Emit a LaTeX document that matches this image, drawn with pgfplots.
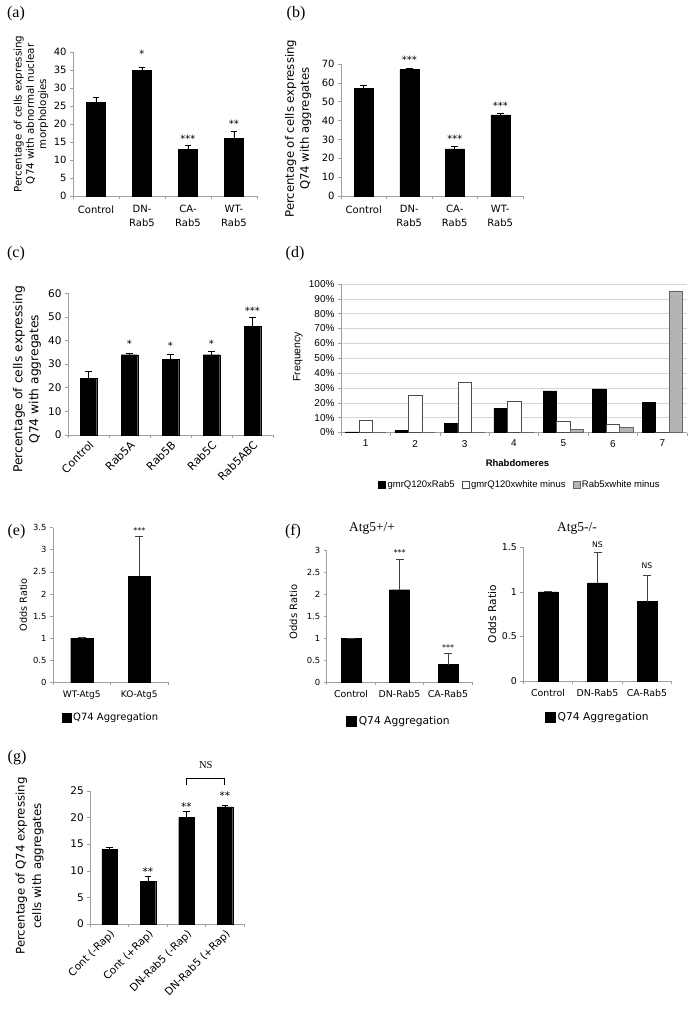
\documentclass[border=0pt]{standalone}
\usepackage{pgfplots}
\pgfplotsset{compat=1.18}
\usepackage{fontspec}
\setmainfont{DejaVu Sans}
\newfontfamily\tms{Liberation Serif}
\newfontfamily\arl{Liberation Sans}
\newcommand{\fs}[1]{\fontsize{#1bp}{#1bp}\selectfont}
\definecolor{axgray}{HTML}{A0A0A0}
\definecolor{barg}{HTML}{B4B4B4}
\definecolor{gridg}{HTML}{D6D6D6}
\pgfplotsset{
  xl/.style={
    scale only axis, anchor=south west, clip=false,
    axis x line*=bottom, axis y line*=left,
    axis line style={axgray, line width=0.6pt},
    every tick/.style={axgray, line width=0.6pt},
    tick align=outside, major tick length=3bp,
    ymin=0, ybar,
    xticklabel={\relax},
    /pgf/number format/assume math mode=true,
    extra x tick style={major tick length=0pt},
  },
  eb/.style={error bars/.cd, y dir=plus, y explicit,
    error bar style={black, line width=0.6pt},
    error mark options={rotate=90, mark size=3.3bp, line width=0.6pt, black}},
  ebf/.style={error bars/.cd, y dir=plus, y explicit,
    error bar style={black!75, line width=0.5pt},
    error mark options={rotate=90, mark size=4bp, line width=0.5pt, black!75}},
  bb/.style={fill=black, draw=black},
}
\tikzset{ast/.style={font=\fs{10}, yshift=-2bp, inner sep=0pt}}
\begin{document}
\begin{tikzpicture}
\fill[white] (0,0) rectangle (700bp,-1012bp);
\path[use as bounding box] (0,0) rectangle (700bp,-1012bp);

% ---------------- (a)
\begin{axis}[xl, at={(73bp,-196bp)}, width=184bp, height=144bp,
  xmin=-0.5, xmax=3.5, ymax=40, ytick={0,5,...,40},
  xtick={-0.5,0.5,...,3.5},
  extra x ticks={0,1,2,3},
  extra x tick labels={Control,{DN-\\Rab5},{CA-\\Rab5},{WT-\\Rab5}},
  x tick label style={align=center, font=\fontsize{10bp}{14bp}\selectfont, yshift=-6bp},
  y tick label style={font=\fs{10}},
  bar width=19bp,
  ylabel={Percentage of cells expressing\\Q74 with abnormal nuclear\\morphologies},
  ylabel style={align=center, font=\fontsize{10.3bp}{12.3bp}\selectfont,
    at={(axis description cs:-0.228,0.57)}, anchor=center},
]
\addplot[bb, eb] coordinates {(0,26) +- (0,1.5) (1,35) +- (0,0.8) (2,13) +- (0,1) (3,16) +- (0,2)};
\node[ast] at (axis cs:1,40.1) {*};
\node[ast] at (axis cs:2,16.5) {***};
\node[ast] at (axis cs:3,20.5) {**};
\end{axis}

% ---------------- (b)
\begin{axis}[xl, at={(341bp,-196bp)}, width=182bp, height=132bp,
  xmin=-0.5, xmax=3.5, ymax=70, ytick={0,10,...,70},
  xtick={-0.5,0.5,...,3.5},
  extra x ticks={0,1,2,3},
  extra x tick labels={Control,{DN-\\Rab5},{CA-\\Rab5},{WT-\\Rab5}},
  x tick label style={align=center, font=\fontsize{10bp}{14bp}\selectfont, yshift=-6bp},
  y tick label style={font=\fs{10}},
  bar width=19bp,
  ylabel={Percentage of cells expressing\\Q74 with aggregates},
  ylabel style={align=center, font=\fontsize{11.7bp}{15bp}\selectfont,
    at={(axis description cs:-0.236,0.51)}, anchor=center},
]
\addplot[bb, eb] coordinates {(0,57) +- (0,1.5) (1,67) +- (0,0.5) (2,25) +- (0,1.3) (3,43) +- (0,1)};
\node[ast] at (axis cs:1,73.5) {***};
\node[ast] at (axis cs:2,31.4) {***};
\node[ast] at (axis cs:3,49.1) {***};
\end{axis}

% ---------------- (c)
\begin{axis}[xl, at={(68bp,-435bp)}, width=205bp, height=141.7bp,
  xmin=-0.5, xmax=4.5, ymax=60, ytick={0,10,...,60},
  xtick={-0.5,0.5,...,4.5},
  extra x ticks={0,1,2,3,4},
  extra x tick labels={Control,Rab5A,Rab5B,Rab5C,Rab5ABC},
  x tick label style={rotate=45, anchor=north east, font=\fs{11}},
  y tick label style={font=\fs{10.5}},
  bar width=16.5bp,
  ylabel={Percentage of cells expressing\\Q74 with aggregates},
  ylabel style={align=center, font=\fontsize{12.3bp}{16bp}\selectfont,
    at={(axis description cs:-0.2,0.394)}, anchor=center},
]
\addplot[bb, eb] coordinates {(0,24) +- (0,3) (1,34) +- (0,0.7) (2,32) +- (0,2.3) (3,34) +- (0,1.5) (4,46) +- (0,4)};
\node[ast] at (axis cs:1,39.5) {*};
\node[ast] at (axis cs:2,38.8) {*};
\node[ast] at (axis cs:3,39.5) {*};
\node[ast] at (axis cs:4,53.3) {***};
\end{axis}

% ---------------- (d)
\begin{axis}[xl, at={(341bp,-432.5bp)}, width=346bp, height=148.5bp,
  ybar=0pt, bar width=13.5bp,
  xmin=0.5, xmax=7.5, ymax=100, ytick={0,10,...,100},
  yticklabel={\pgfmathprintnumber{\tick}\%},
  ymajorgrids, grid style={gridg, line width=0.6pt},
  xtick={0.5,1.5,...,7.5},
  extra x ticks={1,2,3,4,5,6,7},
  extra x tick labels={1,2,3,4,5,6,7},
  x tick label style={font=\arl\fs{10}, yshift=-4bp},
  y tick label style={font=\arl\fs{10}},
  xlabel={\bfseries Rhabdomeres},
  xlabel style={font=\arl\fs{9.5}, at={(axis description cs:0.51,-0.203)}, anchor=center},
  ylabel={Frequency},
  ylabel style={font=\arl\fs{10.5}, at={(axis description cs:-0.125,0.51)}, anchor=center},
  legend style={at={(0.517,-0.354)}, anchor=center, draw=none, legend columns=3,
    font=\arl\fs{9.5}, /tikz/every even column/.append style={column sep=5bp}},
  legend image code/.code={\draw[#1, line width=0.4pt] (0bp,-3.5bp) rectangle (7bp,3.5bp);},
]
\addplot[fill=black, draw=black] coordinates {(1,0.5)(2,1.5)(3,6.2)(4,16.5)(5,28)(6,29.3)(7,20.3)};
\addlegendentry{gmrQ120xRab5}
\addplot[fill=white, draw=black!70] coordinates {(1,8.2)(2,25)(3,34.2)(4,21)(5,7.5)(6,5.5)(7,0.5)};
\addlegendentry{gmrQ120xwhite minus}
\addplot[fill=barg, draw=black!60] coordinates {(1,0)(2,0)(3,0)(4,0)(5,1.9)(6,3.7)(7,95.3)};
\addlegendentry{Rab5xwhite minus}
\end{axis}

% ---------------- (e)
\begin{axis}[xl, at={(53bp,-682.3bp)}, width=115bp, height=154.7bp,
  xmin=-0.5, xmax=1.5, ymax=3.5, ytick={0,0.5,...,3.5},
  xtick={-0.5,0.5,1.5},
  extra x ticks={0,1},
  extra x tick labels={WT-Atg5,KO-Atg5},
  x tick label style={font=\fs{9}, yshift=-5bp},
  y tick label style={font=\fs{8.4}},
  bar width=22bp,
  ylabel={Odds Ratio},
  ylabel style={font=\fs{9.7}, at={(axis description cs:-0.258,0.5)}, anchor=center},
  legend style={at={(0.504,-0.23)}, anchor=center, draw=none, font=\fs{10}},
  legend image code/.code={\fill[black] (0bp,-4.5bp) rectangle (9bp,4.5bp);},
]
\addplot[bb, ebf] coordinates {(0,1) +- (0,0.01) (1,2.4) +- (0,0.9)};
\addlegendentry{Q74 Aggregation}
\node[ast, font=\fs{8}] at (axis cs:1,3.48) {***};
\end{axis}

% ---------------- (f) left
\begin{axis}[xl, at={(326.75bp,-682.3bp)}, width=145.5bp, height=132.3bp,
  xmin=-0.5, xmax=2.5, ymax=3, ytick={0,0.5,...,3},
  xtick={-0.5,0.5,...,2.5},
  extra x ticks={0,1,2},
  extra x tick labels={Control,DN-Rab5,CA-Rab5},
  x tick label style={font=\fs{9.4}, yshift=-5bp},
  y tick label style={font=\fs{8.4}},
  bar width=20bp,
  ylabel={Odds Ratio},
  ylabel style={font=\fs{10}, at={(axis description cs:-0.23,0.53)}, anchor=center},
  legend style={at={(0.497,-0.293)}, anchor=center, draw=none, font=\fs{10.7}},
  legend image code/.code={\fill[black] (0bp,-5bp) rectangle (10bp,5bp);},
]
\addplot[bb, ebf] coordinates {(0,1) +- (0,0.01) (1,2.1) +- (0,0.68) (2,0.4) +- (0,0.26)};
\addlegendentry{Q74 Aggregation}
\node[ast, font=\fs{8}] at (axis cs:1,2.99) {***};
\node[ast, font=\fs{8}] at (axis cs:2,0.84) {***};
\end{axis}

% ---------------- (f) right
\begin{axis}[xl, at={(523.25bp,-681bp)}, width=148.5bp, height=133.7bp,
  xmin=-0.5, xmax=2.5, ymax=1.5, ytick={0,0.5,1,1.5},
  xtick={-0.5,0.5,...,2.5},
  extra x ticks={0,1,2},
  extra x tick labels={Control,DN-Rab5,CA-Rab5},
  x tick label style={font=\fs{9.4}, yshift=-5bp},
  y tick label style={font=\fs{9.4}},
  bar width=20bp,
  ylabel={Odds Ratio},
  ylabel style={font=\fs{10.6}, at={(axis description cs:-0.21,0.5)}, anchor=center},
  legend style={at={(0.503,-0.274)}, anchor=center, draw=none, font=\fs{10.7}},
  legend image code/.code={\fill[black] (0bp,-5bp) rectangle (10bp,5bp);},
]
\addplot[bb, ebf] coordinates {(0,1) +- (0,0.01) (1,1.1) +- (0,0.34) (2,0.89) +- (0,0.30)};
\addlegendentry{Q74 Aggregation}
\node[font=\fs{7.7}] at (axis cs:1,1.53) {NS};
\node[font=\fs{7.7}] at (axis cs:2,1.29) {NS};
\end{axis}

% ---------------- (g)
\begin{axis}[xl, at={(90.25bp,-924bp)}, width=154bp, height=133bp,
  xmin=-0.5, xmax=3.5, ymax=25, ytick={0,5,...,25},
  xtick={-0.5,0.5,...,3.5},
  extra x ticks={0,1,2,3},
  extra x tick labels={Cont (-Rap),Cont (+Rap),DN-Rab5 (-Rap),DN-Rab5 (+Rap)},
  x tick label style={rotate=45, anchor=north east, font=\fs{10.5}},
  y tick label style={font=\fs{10.5}},
  bar width=15.5bp,
  ylabel={Percentage of Q74 expressing\\cells with aggregates},
  ylabel style={align=center, font=\fontsize{11.8bp}{16.5bp}\selectfont,
    at={(axis description cs:-0.394,0.436)}, anchor=center},
]
\addplot[bb, eb] coordinates {(0,14) +- (0,0.4) (1,8) +- (0,1) (2,20) +- (0,1.1) (3,22) +- (0,0.3)};
\node[ast, font=\fs{10.5}] at (axis cs:1,10.3) {**};
\node[ast, font=\fs{10.5}] at (axis cs:2,22.4) {**};
\node[ast, font=\fs{10.5}] at (axis cs:3,24.6) {**};
\draw[black, line width=0.6pt] (axis cs:2,26.1) -- (axis cs:2,27.4) -- (axis cs:2.97,27.4) -- (axis cs:2.97,26.1);
\node[font=\tms\fs{10.5}] at (axis cs:2.5,29.9) {NS};
\end{axis}

% panel labels and titles
\begin{scope}[every node/.style={font=\tms\fs{16}}]
\node at (16bp,-13.5bp) {(a)};
\node at (296bp,-13.5bp) {(b)};
\node at (16bp,-254bp) {(c)};
\node at (295bp,-254bp) {(d)};
\node at (16.5bp,-532bp) {(e)};
\node at (293bp,-532bp) {(f)};
\node at (17bp,-758bp) {(g)};
\end{scope}
\node[font=\tms\fs{13.5}] at (372bp,-528bp) {Atg5+/+};
\node[font=\tms\fs{13.5}] at (577bp,-528bp) {Atg5-/-};
\end{tikzpicture}
\end{document}
